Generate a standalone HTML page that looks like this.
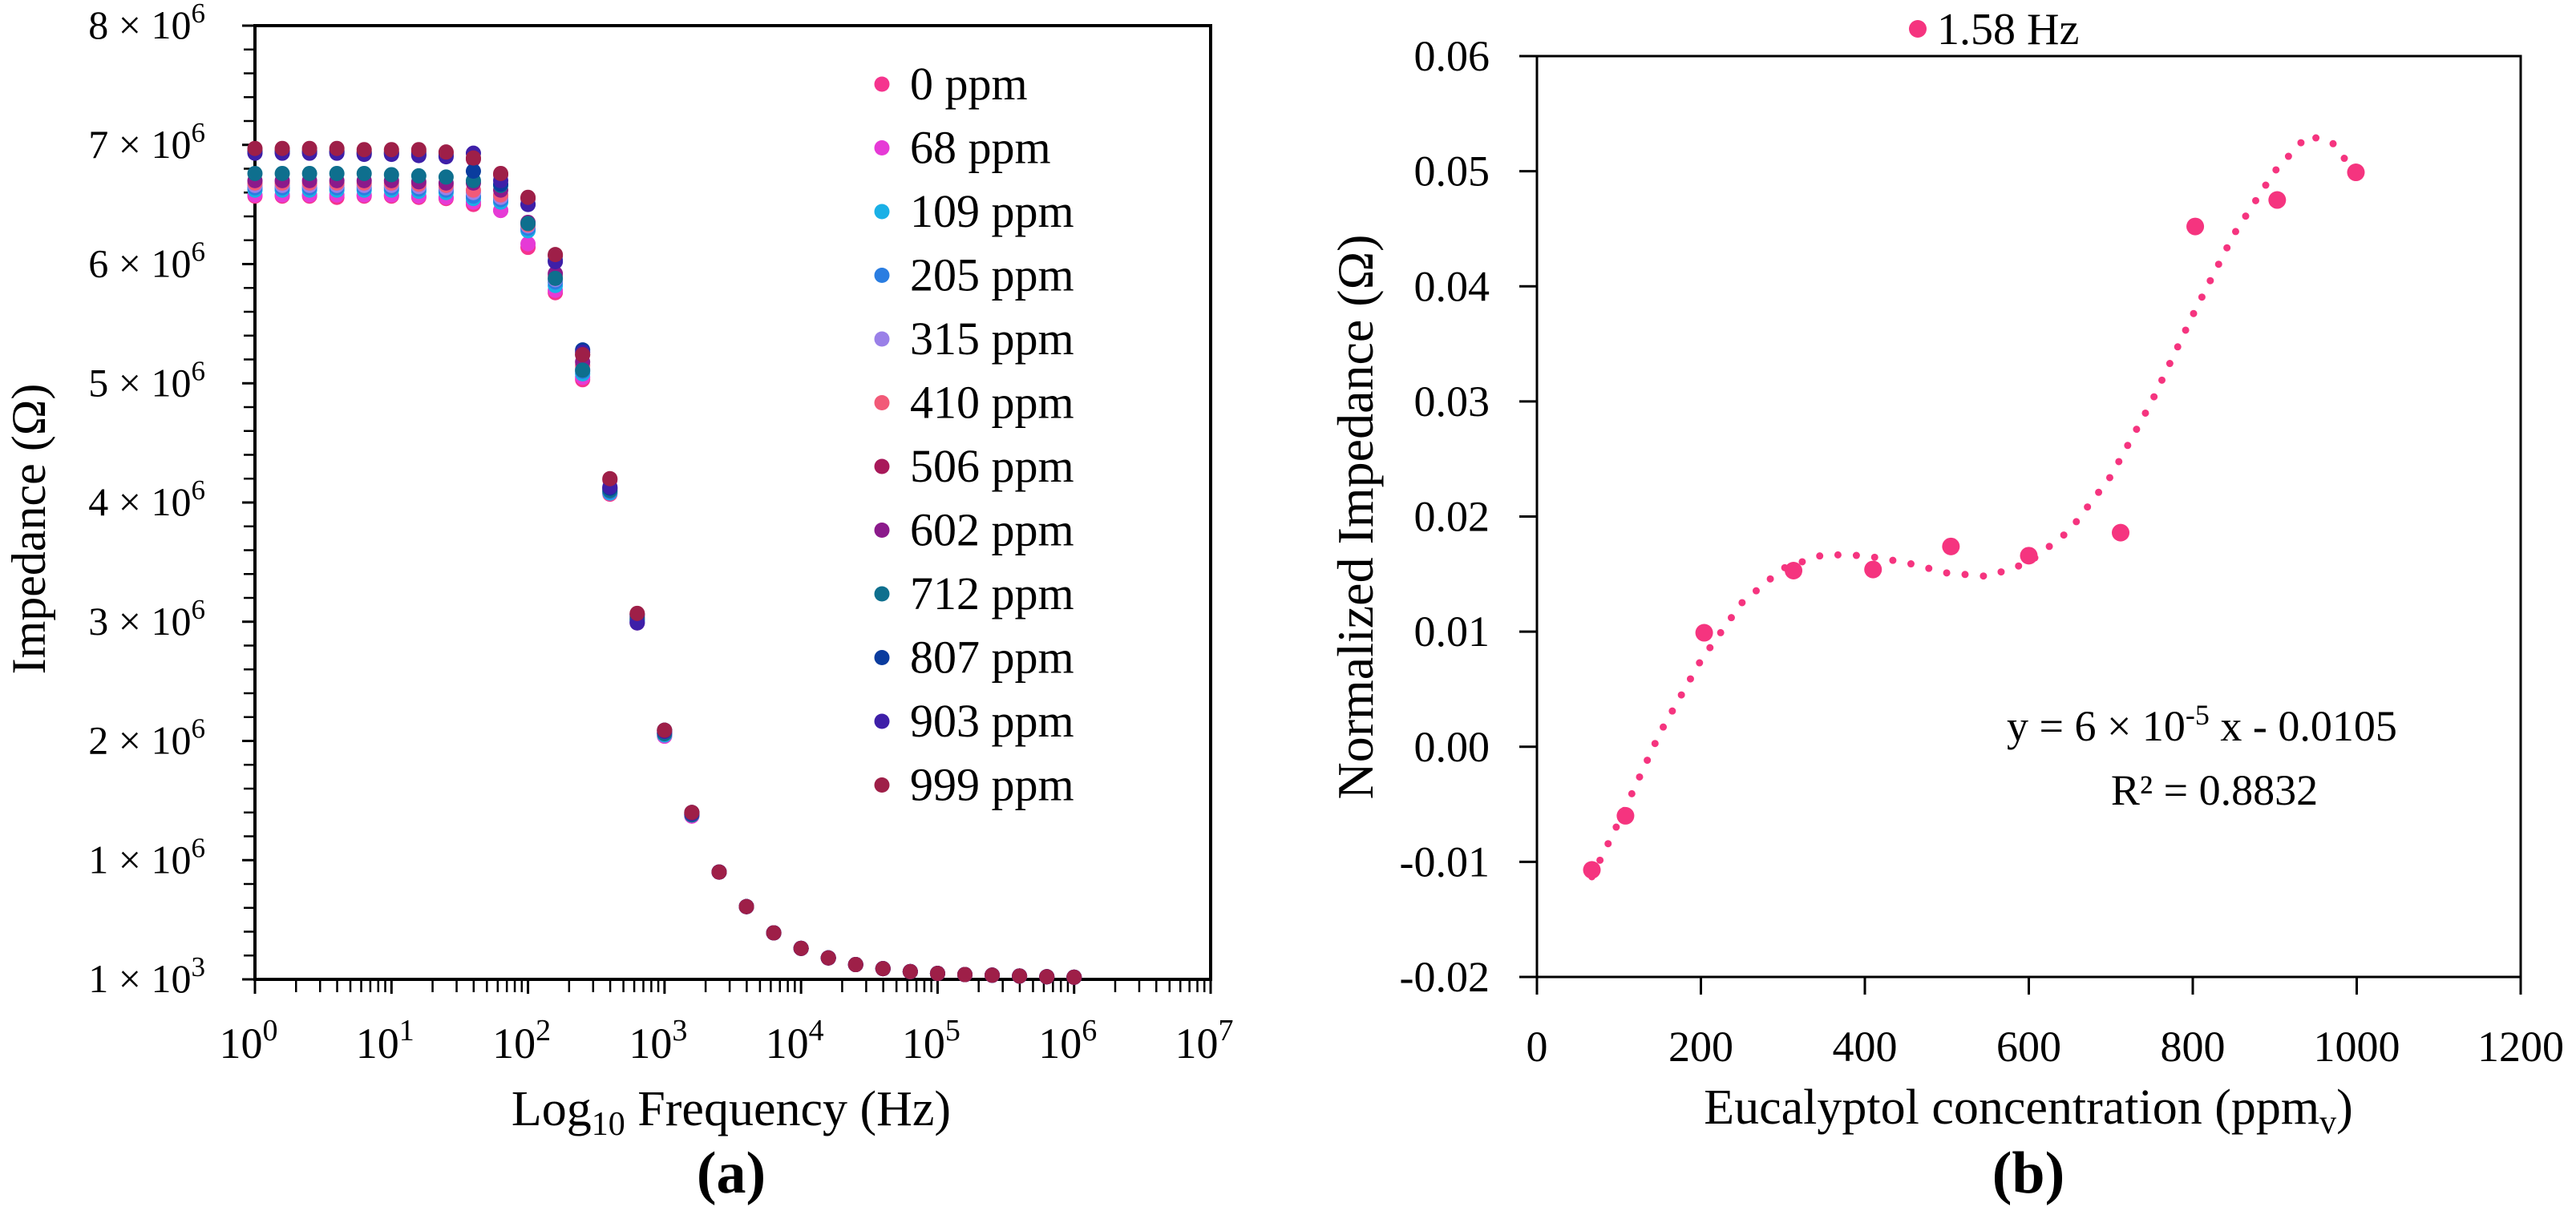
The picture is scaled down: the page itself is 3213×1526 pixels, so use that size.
<!DOCTYPE html>
<html><head><meta charset="utf-8">
<style>
html,body{margin:0;padding:0;background:#fff;}
svg{display:block;font-family:"Liberation Serif",serif;}
</style></head>
<body>
<svg id="fig" width="3213" height="1526" viewBox="0 0 3213 1526" xmlns="http://www.w3.org/2000/svg">
<g id="pa"></g>
<g id="pb"></g>
</svg>
<script>
// ---------- Panel (a) data ----------
const freqExponents = [0,0.2,0.4,0.6,0.8,1,1.2,1.4,1.6,1.8,2,2.2,2.4,2.6,2.8,3,3.2,3.4,3.6,3.8,4,4.2,4.4,4.6,4.8,5,5.2,5.4,5.6,5.8,6];
const seriesNames = ["0 ppm","68 ppm","109 ppm","205 ppm","315 ppm","410 ppm","506 ppm","602 ppm","712 ppm","807 ppm","903 ppm","999 ppm"];
const seriesColors = ["#f5348e","#e63ad6","#1ab0e6","#2a7de1","#9a80e8","#f25a78","#a8195a","#8b1a8b","#0e6f8e","#0a3c9e","#3e1fa8","#9e1f48"];
const tail = [0.90,0.61,0.39,0.26,0.18,0.124,0.09,0.065,0.05,0.04,0.035,0.028,0.022,0.018];
const s0   = [6.57,6.57,6.57,6.56,6.57,6.57,6.56,6.55,6.50,6.45,6.14,5.76,5.03,4.07,2.99,2.04,1.37].concat(tail);
const s68  = [6.58,6.58,6.58,6.58,6.58,6.58,6.57,6.56,6.52,6.45,6.17,5.78,5.05,4.08,3.00,2.04,1.37].concat(tail);
const s109 = [6.62,6.62,6.62,6.62,6.62,6.62,6.61,6.60,6.55,6.52,6.28,5.82,5.08,4.08,3.00,2.05,1.38].concat(tail);
const s205 = [6.64,6.64,6.64,6.64,6.64,6.64,6.63,6.62,6.57,6.54,6.30,5.85,5.10,4.09,3.01,2.06,1.38].concat(tail);
const s315 = [6.66,6.66,6.66,6.66,6.66,6.66,6.65,6.64,6.60,6.56,6.32,5.87,5.12,4.10,3.02,2.06,1.39].concat(tail);
const s410 = [6.68,6.68,6.68,6.68,6.68,6.68,6.67,6.66,6.62,6.58,6.33,5.90,5.15,4.11,3.03,2.07,1.39].concat(tail);
const s506 = [6.95,6.95,6.95,6.95,6.94,6.94,6.94,6.93,6.88,6.75,6.55,6.07,5.24,4.19,3.06,2.09,1.40].concat(tail);
const s602 = [6.70,6.70,6.70,6.70,6.70,6.70,6.69,6.68,6.68,6.62,6.35,5.92,5.18,4.12,3.04,2.07,1.39].concat(tail);
const s712 = [6.76,6.76,6.76,6.76,6.76,6.75,6.74,6.73,6.70,6.66,6.34,5.88,5.11,4.10,3.02,2.06,1.38].concat(tail);
const s807 = [6.94,6.94,6.94,6.94,6.93,6.93,6.92,6.91,6.78,6.67,6.50,6.03,5.28,4.12,3.06,2.09,1.40].concat(tail);
const s903 = [6.93,6.93,6.93,6.93,6.92,6.92,6.91,6.90,6.93,6.70,6.50,6.02,5.26,4.13,2.99,2.08,1.39].concat(tail);
const s999 = [6.97,6.97,6.97,6.97,6.96,6.96,6.96,6.94,6.89,6.76,6.56,6.08,5.24,4.20,3.07,2.09,1.40].concat(tail);
const seriesValues = [s0,s68,s109,s205,s315,s410,s506,s602,s712,s807,s903,s999];
const yTicksA = [0,1,2,3,4,5,6,7,8];
const yTickExpA = ["3","6","6","6","6","6","6","6","6"];
const xDecadesA = [0,1,2,3,4,5,6,7];

// ---------- Panel (b) data ----------
const concX = [67,108,204,313,410,505,600,712,803,903,999];
const normZ = [-0.0107,-0.0060,0.0099,0.0153,0.0154,0.0174,0.0166,0.0186,0.0452,0.0475,0.0499];
const trendX = [67,100,150,200,250,300,350,400,450,500,550,600,650,700,750,800,850,900,940,970,999];
const trendY = [-0.0113,-0.0065,0.0012,0.0075,0.0125,0.0155,0.0167,0.0166,0.0160,0.0151,0.0148,0.0160,0.0188,0.0235,0.0300,0.0375,0.0445,0.0500,0.0531,0.0525,0.0498];
const yTicksB = [-0.02,-0.01,0,0.01,0.02,0.03,0.04,0.05,0.06];
const yTickLabelsB = ["-0.02","-0.01","0.00","0.01","0.02","0.03","0.04","0.05","0.06"];
const xTicksB = [0,200,400,600,800,1000,1200];

const NS = "http://www.w3.org/2000/svg";
function mk(parent, tag, attrs, text){
  const e = document.createElementNS(NS, tag);
  for (const k in attrs) e.setAttribute(k, attrs[k]);
  if (text !== undefined) e.textContent = text;
  parent.appendChild(e);
  return e;
}

// ===== Panel A =====
const pa = document.getElementById('pa');
const A = {l:318, r:1510, t:32, b:1222};
const xA = e => A.l + (e - 0) / 7 * (A.r - A.l);
const yA = v => A.b - v / 8 * (A.b - A.t);

let fr = mk(pa,'rect',{x:A.l,y:A.t,width:A.r-A.l,height:A.b-A.t,fill:'none',stroke:'#000','stroke-width':4});



for (let i=0;i<yTicksA.length;i++){
  const v = yTicksA[i];
  const y = yA(v);
  let t = mk(pa,'line',{x1:A.l-16,x2:A.l,y1:y,y2:y,stroke:'#000','stroke-width':3});
  
  
  if (i < yTicksA.length-1){
    for (let m=1;m<5;m++){
      const ym = yA(v + m*0.2);
      let mt = mk(pa,'line',{x1:A.l-14,x2:A.l,y1:ym,y2:ym,stroke:'#000','stroke-width':2.5});
      
      
    }
  }
  const lab = mk(pa,'text',{x:A.l-62,y:y+16,'text-anchor':'end','font-size':50});
  
  
  lab.textContent = (v===0?1:v) + " × 10";
  mk(lab,'tspan',{dy:-20,'font-size':35},yTickExpA[i]);
}
for (let i=0;i<xDecadesA.length;i++){
  const d = xDecadesA[i];
  const x = xA(d);
  let t = mk(pa,'line',{x1:x,x2:x,y1:A.b,y2:A.b+18,stroke:'#000','stroke-width':3});
  
  
  if (i < xDecadesA.length-1){
    for (let m=2;m<10;m++){
      const xm = xA(d + Math.log10(m));
      let mt = mk(pa,'line',{x1:xm,x2:xm,y1:A.b,y2:A.b+16,stroke:'#000','stroke-width':2.5});
      
      
    }
  }
  const lab = mk(pa,'text',{x:x-8,y:1320,'text-anchor':'middle','font-size':54});
  
  
  lab.textContent = "10";
  mk(lab,'tspan',{dy:-22,'font-size':38},String(d));
}
for (let s=0;s<seriesValues.length;s++){
  const g = mk(pa,'g',{fill:seriesColors[s]});
  
  
  const vals = seriesValues[s];
  for (let i=0;i<freqExponents.length;i++){
    const c = mk(g,'circle',{cx:xA(freqExponents[i]),cy:yA(vals[i]),r:9.5});
    
    
  }
}
for (let s=0;s<seriesNames.length;s++){
  const y = 105 + s*79.5;
  const g = mk(pa,'g',{});
  
  
  mk(g,'circle',{cx:1100,cy:y,r:9.5,fill:seriesColors[s]});
  mk(g,'text',{x:1135,y:y+19,'font-size':58},seriesNames[s]);
}
let yt = mk(pa,'text',{x:0,y:0,'font-size':60,'text-anchor':'middle',transform:'translate(56,660) rotate(-90)'},"Impedance (Ω)");


let xt = mk(pa,'text',{x:912,y:1404,'font-size':62,'text-anchor':'middle'});


xt.appendChild(document.createTextNode("Log"));
mk(xt,'tspan',{dy:12,'font-size':42},"10");
mk(xt,'tspan',{dy:-12}," Frequency (Hz)");
let ca = mk(pa,'text',{x:912,y:1488,'font-size':74,'font-weight':'bold','text-anchor':'middle'},"(a)");



// ===== Panel B =====
const pb = document.getElementById('pb');
const B = {l:1917, r:3144, t:70, b:1219};
const xB = v => B.l + v/1200*(B.r-B.l);
const yB = v => B.b - (v+0.02)/0.08*(B.b-B.t);

let frb = mk(pb,'rect',{x:B.l,y:B.t,width:B.r-B.l,height:B.b-B.t,fill:'none',stroke:'#000','stroke-width':3});


for (let i=0;i<yTicksB.length;i++){
  const y = yB(yTicksB[i]);
  let t = mk(pb,'line',{x1:B.l-22,x2:B.l,y1:y,y2:y,stroke:'#000','stroke-width':3});
  
  
  let l = mk(pb,'text',{x:1858,y:y+18,'text-anchor':'end','font-size':54},yTickLabelsB[i]);
  
  
}
for (let i=0;i<xTicksB.length;i++){
  const x = xB(xTicksB[i]);
  let t = mk(pb,'line',{x1:x,x2:x,y1:B.b,y2:B.b+22,stroke:'#000','stroke-width':3});
  
  
  let l = mk(pb,'text',{x:x,y:1324,'text-anchor':'middle','font-size':54},String(xTicksB[i]));
  
  
}
let d = trendX.map((x,i)=>(i?'L':'M')+xB(x).toFixed(1)+','+yB(trendY[i]).toFixed(1)).join(' ');
let tr = mk(pb,'path',{d:d,fill:'none',stroke:'#f5347f','stroke-width':9,'stroke-linecap':'round','stroke-dasharray':'0 23'});


const gb = mk(pb,'g',{fill:'#f5347f'});


for (let i=0;i<concX.length;i++){
  const c = mk(gb,'circle',{cx:xB(concX[i]),cy:yB(normZ[i]),r:11});
  
  
}
const lg = mk(pb,'g',{});


mk(lg,'circle',{cx:2392,cy:36,r:11,fill:'#f5347f'});
mk(lg,'text',{x:2416,y:55,'font-size':56},"1.58 Hz");
let eq = mk(pb,'text',{x:2503,y:924,'font-size':54});


eq.appendChild(document.createTextNode("y = 6 × 10"));
mk(eq,'tspan',{dy:-20,'font-size':36},"-5");
mk(eq,'tspan',{dy:20}," x - 0.0105");
let r2 = mk(pb,'text',{x:2762,y:1004,'font-size':54,'text-anchor':'middle'},"R² = 0.8832");


let ytb = mk(pb,'text',{x:0,y:0,'font-size':64,'text-anchor':'middle',transform:'translate(1712,645) rotate(-90)'},"Normalized Impedance (Ω)");


let xtb = mk(pb,'text',{x:2530,y:1402,'font-size':62,'text-anchor':'middle'});


xtb.appendChild(document.createTextNode("Eucalyptol concentration (ppm"));
mk(xtb,'tspan',{dy:12,'font-size':42},"v");
mk(xtb,'tspan',{dy:-12},")");
let cb = mk(pb,'text',{x:2530,y:1488,'font-size':74,'font-weight':'bold','text-anchor':'middle'},"(b)");


</script>
</body></html>
